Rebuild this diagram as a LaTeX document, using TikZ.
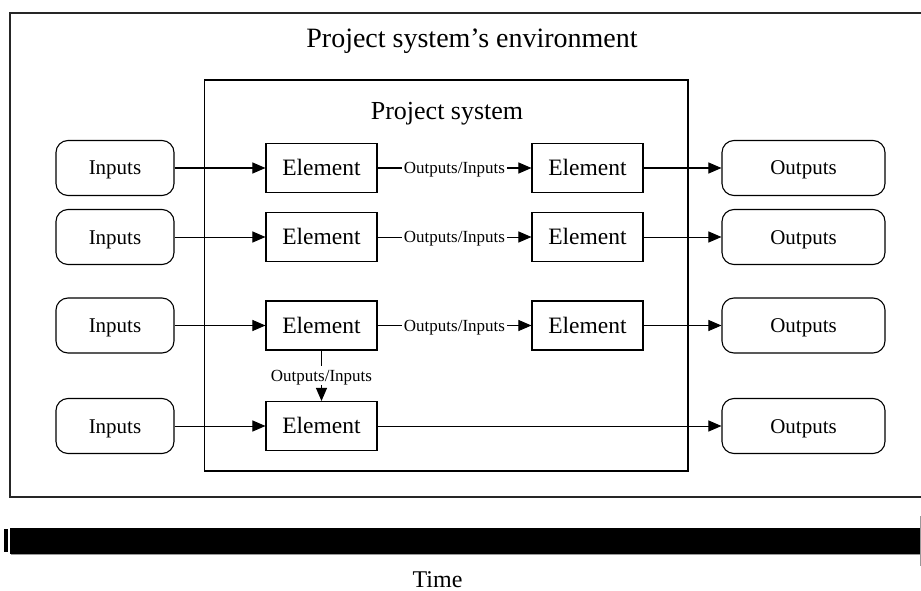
\documentclass[tikz,border=0pt]{standalone}
\usepackage{fontspec}
\setmainfont{Liberation Serif}
\usetikzlibrary{arrows.meta}
\begin{document}
\begin{tikzpicture}[x=1pt,y=-1pt,
 io/.style={draw, line width=1.1pt, rounded corners=12pt, minimum height=55pt, inner sep=0pt, text height=14pt, text depth=0pt, font=\fontsize{21}{24}\selectfont},
 inbox/.style={io, minimum width=118pt},
 outbox/.style={io, minimum width=163pt},
 elem/.style={draw, line width=1.1pt, minimum width=111pt, minimum height=49pt, inner sep=0pt, text height=15.5pt, text depth=0pt, font=\fontsize{23.5}{26}\selectfont},
 flow/.style={line width=1pt, -{Triangle[length=13pt,width=11pt]}},
 lbl/.style={fill=white, inner xsep=1.5pt, inner ysep=4pt, text height=11.2pt, text depth=0pt, font=\fontsize{17}{19}\selectfont}]
\clip (0,0) rectangle (921,591);
\fill[white] (0,0) rectangle (921,591);
% environment and system boundaries
\draw[line width=1.3pt, draw=black!85] (940,13) -- (10,13) -- (10,497) -- (940,497);
\draw[line width=1.1pt] (204.5,80) rectangle (688,471);
\node[font=\fontsize{28}{30}\selectfont, anchor=base, inner sep=0pt] (env) at (472,48) {Project system’s environment};
\node[font=\fontsize{26}{28}\selectfont, anchor=base, inner sep=0pt] (ps) at (447,120) {Project system};
% row 1
\node[inbox] (in1) at (115,168) {Inputs};
\node[elem] (e1) at (321.5,168) {Element};
\node[elem] (f1) at (587.5,168) {Element};
\node[outbox] (out1) at (803.5,168) {Outputs};
% row 2
\node[inbox] (in2) at (115,237) {Inputs};
\node[elem] (e2) at (321.5,237) {Element};
\node[elem] (f2) at (587.5,237) {Element};
\node[outbox] (out2) at (803.5,237) {Outputs};
% row 3
\node[inbox] (in3) at (115,325.5) {Inputs};
\node[elem] (e3) at (321.5,325.5) {Element};
\node[elem] (f3) at (587.5,325.5) {Element};
\node[outbox] (out3) at (803.5,325.5) {Outputs};
% row 4
\node[inbox] (in4) at (115,426) {Inputs};
\node[elem] (e4) at (321.5,426) {Element};
\node[outbox] (out4) at (803.5,426) {Outputs};
% connectors
\draw[flow] (in1) -- (e1);
\draw[flow] (e1) -- node[lbl]{Outputs/Inputs} (f1);
\draw[flow] (f1) -- (out1);
\draw[flow] (in2) -- (e2);
\draw[flow] (e2) -- node[lbl]{Outputs/Inputs} (f2);
\draw[flow] (f2) -- (out2);
\draw[flow] (in3) -- (e3);
\draw[flow] (e3) -- node[lbl]{Outputs/Inputs} (f3);
\draw[flow] (f3) -- (out3);
\draw[flow] (in4) -- (e4);
\draw[flow] (e4) -- (out4);
\draw[flow] (e3) -- node[lbl]{Outputs/Inputs} (e4);
% time bar
\fill[black] (10,528) rectangle (925,554);
\draw[black!40, line width=0.6pt] (11,554.5) -- (921,554.5);
\fill[black] (4,529) rectangle (8,552);
\draw[black!40, line width=0.8pt] (920,516) -- (920,566);
\node[font=\fontsize{24}{26}\selectfont, anchor=base, inner sep=0pt, text depth=0pt] (time) at (437.5,587) {Time};
\end{tikzpicture}
\end{document}
